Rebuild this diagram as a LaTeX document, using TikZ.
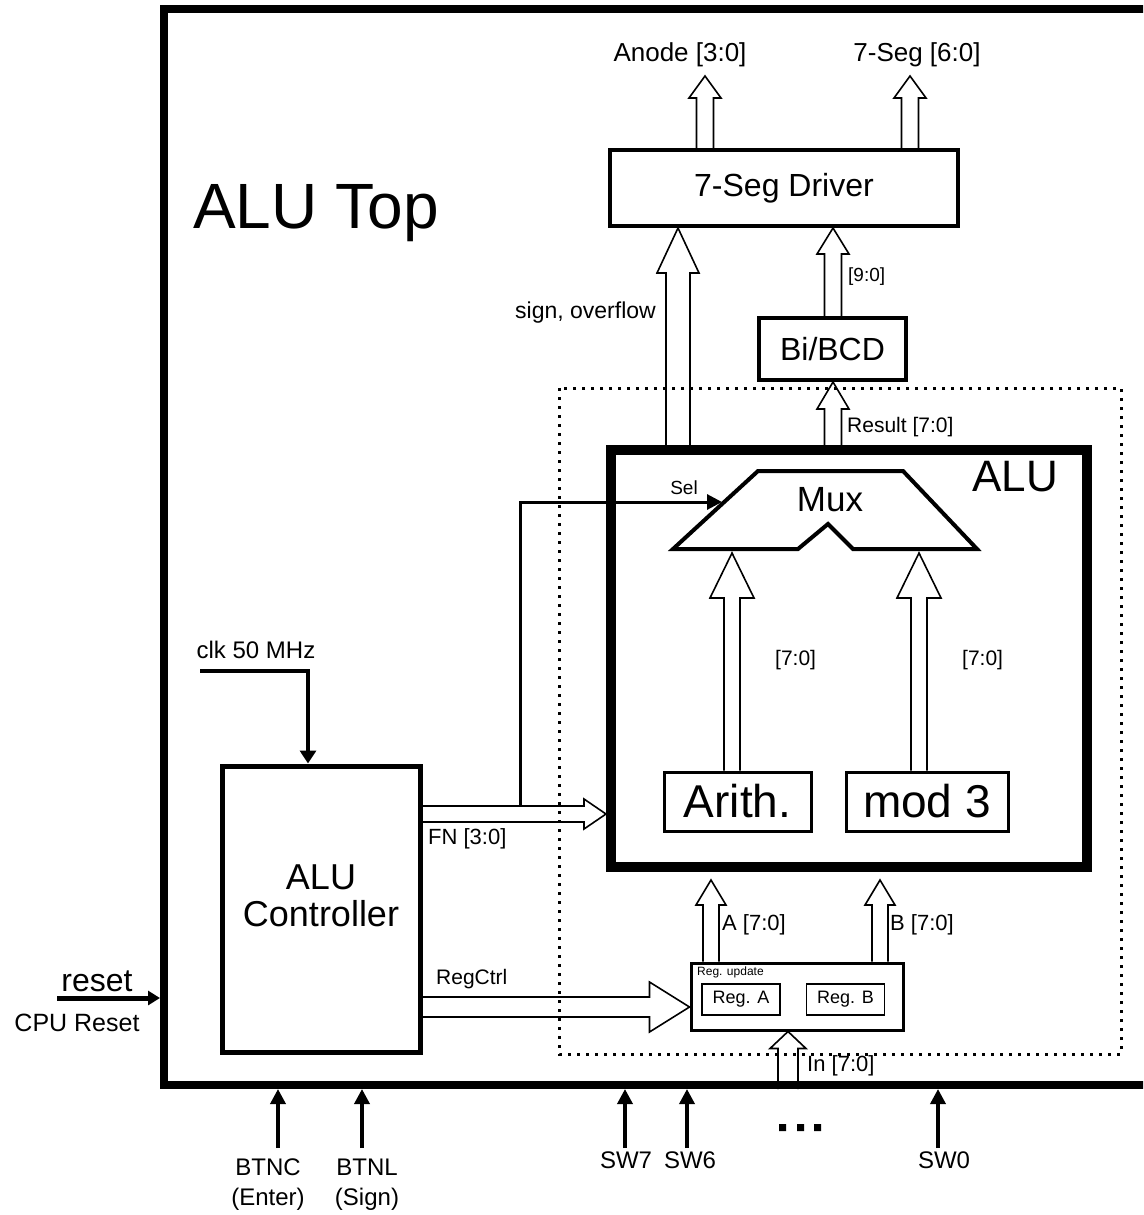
\documentclass[tikz,border=0pt]{standalone}
\usepackage{fontspec}
\setmainfont{Liberation Sans}
\usetikzlibrary{arrows.meta,calc}
\newcommand\fs[1]{\fontsize{#1}{#1}\selectfont}
\newcommand\hup[5]{\draw[hol] let \p1=#1, \p2=#2 in
  (\x2-#3pt,\y1) -- (\x2-#3pt,\y2-#5pt) -- (\x2-#4pt,\y2-#5pt) -- (\x2,\y2) -- (\x2+#4pt,\y2-#5pt) -- (\x2+#3pt,\y2-#5pt) -- (\x2+#3pt,\y1);}
\newcommand\hright[5]{\draw[hol] let \p1=#1, \p2=#2 in
  (\x1,\y2+#3pt) -- (\x2-#5pt,\y2+#3pt) -- (\x2-#5pt,\y2+#4pt) -- (\x2,\y2) -- (\x2-#5pt,\y2-#4pt) -- (\x2-#5pt,\y2-#3pt) -- (\x1,\y2-#3pt);}
\begin{document}
\begin{tikzpicture}[x=1pt,y=-1pt,
  txt/.style={inner sep=0pt, font=\fs{#1}},
  blk/.style={draw, line width=#1, inner sep=0pt},
  hol/.style={line width=1.6pt, line join=miter},
  sig/.style={line width=3.5pt, -{Triangle[length=15pt,width=15pt]}},
  dotbox/.style={line width=3pt, dash pattern=on 3pt off 6pt},
]
\useasboundingbox (0,0) rectangle (1143,1215);
\clip (0,0) rectangle (1143,1215);
\fill[white] (0,0) rectangle (1143,1215);

% x positions
\coordinate (xAn) at (705,0);
\coordinate (x7s) at (910,0);
\coordinate (xSO) at (678,0);
\coordinate (xR) at (833,0);
\coordinate (xAr) at (732,0);
\coordinate (xMd) at (919,0);
\coordinate (xA) at (711,0);
\coordinate (xB) at (880,0);
\coordinate (xIn) at (788,0);
\coordinate (xClk) at (308,0);
\coordinate (xSel) at (520,0);
\coordinate (xBC) at (278,0);
\coordinate (xBL) at (362,0);
\coordinate (xS7) at (625,0);
\coordinate (xS6) at (687,0);
\coordinate (xS0) at (938,0);
\coordinate (yFN) at (0,814);
\coordinate (yRC) at (0,1007);
\coordinate (yRs) at (0,998);
\coordinate (yBot) at (0,1148);

% outer box
\node[blk=8pt, minimum width=1036pt, minimum height=1076pt] (top) at (682,547) {};
\node[txt=64] (title) at (316,213) {ALU Top};

% dotted ALU region
\draw[dotbox] (559,388) rectangle (1121,1054);

% blocks
\node[blk=4pt, minimum width=348pt, minimum height=76pt, font=\fs{32}] (drv) at (784,188) {7-Seg Driver};
\node[blk=4pt, minimum width=147pt, minimum height=62pt, font=\fs{32}] (bcd) at (832.5,349) {Bi/BCD};
\node[blk=10pt, minimum width=476pt, minimum height=417pt] (alu) at (849,658.5) {};
\node[txt=44] (alulbl) at (1015,477) {ALU};
\draw[line width=4pt, line join=miter] (758,471) -- (903,471) -- (977,549) -- (853,549) -- (828,524) -- (798,549) -- (673,549) -- cycle;
\coordinate (muxb) at (673,553);
\coordinate (selTip) at (722,502);
\node[txt=35] (muxlbl) at (830,500) {Mux};
\node[blk=3pt, minimum width=147pt, minimum height=59pt, font=\fs{46}] (arith) at (737.5,801.5) {Arith.};
\node[blk=3pt, minimum width=162pt, minimum height=59pt, font=\fs{46}] (mod) at (927,801.5) {mod 3};
\node[blk=5pt, minimum width=198pt, minimum height=286pt] (ctrl) at (321,909) {};
\node[inner sep=0pt, font=\fontsize{36}{37}\selectfont, align=center] (ctrltxt) at (321,896) {ALU\\Controller};
\node[blk=3pt, minimum width=212pt, minimum height=67pt] (reg) at (797,996.5) {};
\node[txt=12, anchor=west] (regup) at (697,972) {Reg. update};
\node[blk=1.2pt, minimum width=78pt, minimum height=31pt, font=\fs{18}] (rega) at (741,999.5) {Reg. A};
\node[blk=1.2pt, minimum width=78pt, minimum height=31pt, font=\fs{18}] (regb) at (845.5,999.5) {Reg. B};

% outputs
\node[txt=26] (anode) at (680,55) {Anode [3:0]};
\node[txt=26] (seg) at (917,55) {7-Seg [6:0]};
\coordinate (tAn) at (705,76);
\coordinate (t7s) at (910,76);
\hup{(drv.north -| xAn)}{(tAn)}{8.5}{16}{22}
\hup{(drv.north -| x7s)}{(t7s)}{8.5}{16}{22}

% sign, overflow
\hup{(alu.north -| xSO)}{(drv.south -| xSO)}{12}{21}{45}
\node[txt=23, anchor=east] (so) at (656,313) {sign, overflow};
% BCD
\hup{(bcd.north -| xR)}{(drv.south -| xR)}{8.5}{16}{26}
\node[txt=19, anchor=west] (b90) at (848,277) {[9:0]};
\hup{(alu.north -| xR)}{(bcd.south -| xR)}{8.5}{16}{27}
\node[txt=21, anchor=west] (res) at (847,427) {Result [7:0]};

% into mux
\hup{(arith.north -| xAr)}{(muxb -| xAr)}{8}{22}{45}
\hup{(mod.north -| xMd)}{(muxb -| xMd)}{8}{22}{45}
\node[txt=21, anchor=west] (l1) at (775,660) {[7:0]};
\node[txt=21, anchor=west] (l2) at (962,660) {[7:0]};

% reg to ALU
\hup{(reg.north -| xA)}{($(alu.south -| xA)+(0,8)$)}{8}{15}{25}
\hup{(reg.north -| xB)}{($(alu.south -| xB)+(0,8)$)}{8}{15}{25}
\node[txt=22, anchor=west] (la) at (722,925) {A [7:0]};
\node[txt=22, anchor=west] (lb) at (890,925) {B [7:0]};
\hup{(top.south -| xIn)}{(reg.south -| xIn)}{10}{18}{17}
\node[txt=22, anchor=west] (lin) at (807,1066) {In [7:0]};

% controller outputs
\hright{(ctrl.east |- yFN)}{(alu.west |- yFN)}{8}{15}{22}
\node[txt=22, anchor=west] (fn) at (428,839) {FN [3:0]};
\hright{(ctrl.east |- yRC)}{(reg.west |- yRC)}{10}{25}{40}
\node[txt=21, anchor=west] (rc) at (436,979) {RegCtrl};

% Sel
\draw[line width=3pt, -{Triangle[length=15pt,width=15pt]}] (xSel |- 0,806) -- (xSel |- selTip) -- (selTip);
\node[txt=19] (sel) at (684,488) {Sel};

% clk
\node[txt=24] (clk) at (256,650) {clk 50 MHz};
\coordinate (clkS) at (200,671);
\draw[line width=3.5pt, -{Triangle[length=13pt,width=16pt]}] (clkS) -- (clkS -| xClk) -- (ctrl.north -| xClk);

% reset
\node[txt=32] (rst) at (97,981) {reset};
\node[txt=25] (cpur) at (77,1023) {CPU Reset};
\coordinate (rsS) at (57,998);
\draw[line width=5pt, -{Triangle[length=12pt,width=14pt]}] (rsS) -- (top.west |- yRs);

% bottom inputs
\foreach \xx in {xBC,xBL,xS7,xS6,xS0}
  \draw[sig] (\xx |- yBot) -- (top.south -| \xx);
\node[inner sep=0pt, font=\fontsize{24}{30}\selectfont, align=center] (btnc) at (268,1185) {BTNC\\(Enter)};
\node[inner sep=0pt, font=\fontsize{24}{30}\selectfont, align=center] (btnl) at (367,1185) {BTNL\\(Sign)};
\node[txt=24] (sw7) at (626,1160) {SW7};
\node[txt=24] (sw6) at (690,1160) {SW6};
\node[txt=24] (sw0) at (944,1160) {SW0};
\fill (779,1124) rectangle (786,1131) (797,1124) rectangle (804,1131) (814,1124) rectangle (821,1131);
\end{tikzpicture}
\end{document}
